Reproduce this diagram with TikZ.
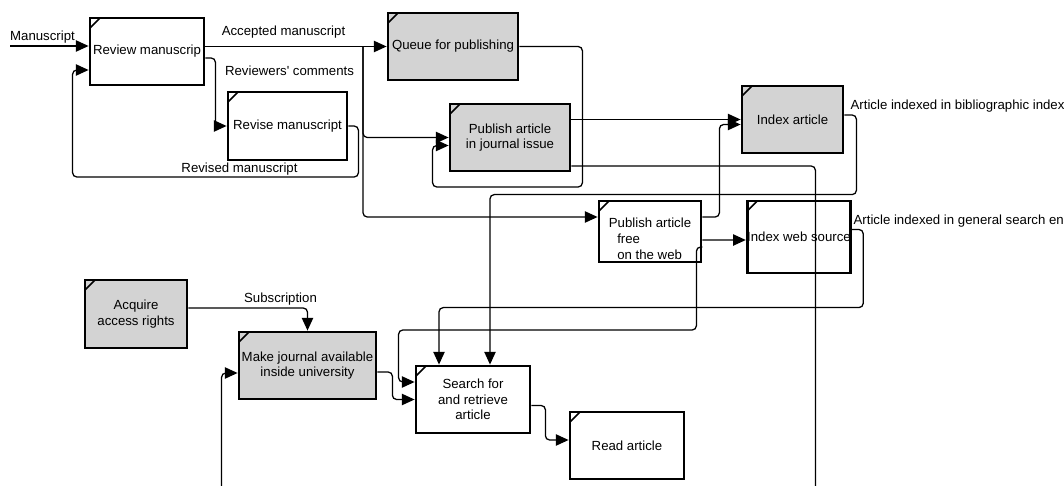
\documentclass[tikz,border=0pt]{standalone}
\usepackage{fontspec}
\setmainfont{Liberation Sans}
\usepackage{tikz}
\usetikzlibrary{arrows.meta, calc}
\definecolor{colorProcess}{HTML}{D3D3D3}
\tikzset{
  proc/.style 2 args={draw, line width=2pt, sharp corners, inner sep=0pt, align=center,
    minimum width=#1*0.025cm, minimum height=#2*0.025cm,
    path picture={\draw[line width=1.2pt] ($(path picture bounding box.north west)+(0,10)$) -- ++(10,-10);}},
  shaded/.style={fill=colorProcess},
  lbl/.style={inner sep=0pt},
}

\begin{document}
\begin{tikzpicture}[>={Triangle[length=9pt,width=8pt]}, x=0.025cm, y=-0.025cm, line width=0.9pt, rounded corners=3pt, every node/.style={font=\fontsize{9.4}{11.2}\selectfont}]
\useasboundingbox (0,0) rectangle (1064,486);
\node[proc={114}{67}] (review) at (147,51.5) {Review manuscrip};
\node[proc={119}{68}] (revise) at (287.5,126) {Revise manuscript};
\node[proc={130}{67}, shaded] (queue) at (453,46.5) {Queue for publishing};
\node[proc={120}{67}, shaded] (pubj) at (510,137.5) {Publish article\\in journal issue};
\node[proc={101}{67}, shaded] (index) at (792.5,119.5) {Index article};
\node[proc={102}{61}, align=left] (pubw) at (650,231.5) {{}\\[6pt]Publish article\\\hspace{6pt}free\\\hspace{6pt}on the web};
\node[proc={102}{72}] (indexw) at (799,237) {Index web source};
\node[proc={102}{68}, shaded] (acquire) at (136,314) {Acquire\\access rights};
\node[proc={137}{67}, shaded] (make) at (307.5,365.5) {Make journal available\\inside university};
\node[proc={114}{67}] (search) at (473,399.5) {Search for\\and retrieve\\article};
\node[proc={114}{67}] (read) at (627,445.5) {Read article};
\coordinate (src) at (10,46);
\coordinate (fork) at (363,46.5);
\node[lbl] (lman) at (42.5,37) {Manuscript};
\node[lbl] (lacc) at (283.5,32) {Accepted manuscript};
\node[lbl] (lcom) at (289.5,70.5) {Reviewers\textquotesingle\ comments};
\node[lbl] (lrev) at (239.5,169) {Revised manuscript};
\node[lbl] (lsub) at (280.5,299) {Subscription};
\node[lbl, anchor=west] (lbib) at (850,106.5) {Article indexed in bibliographic index};
\node[lbl, anchor=west] (lweb) at (853,221.5) {Article indexed in general search en};
\draw [->] (src) -- (review.west |- src);
\draw [->] (review.east |- queue.west) -- (queue.west);
\draw [->] (fork) |- (pubj.west);
\draw [->] (fork) |- ($(pubw.west)+(0,-14.5)$);
\draw [->] ($(review.east)+(0,6.5)$) -- ++(10,0) |- (revise.west);
\draw [->] (revise.east) -- ++(10,0) |- ($(review.west)+(-16,125.5)$) |- ($(review.west)+(0,18.5)$);
\draw [->] (queue.east) -| ++(63,140.5) -| ($(pubj.west)+(-16,8)$) -- ($(pubj.west)+(0,8)$);
\draw [->] (pubj.east |- index.west) -- (index.west);
\draw [->] ($(pubj.east)+(0,28.5)$) -| ++(244,340) -| ($(make.west)+(-16,7.5)$) -- ($(make.west)+(0,7.5)$);
\draw [->] ($(pubw.east)+(0,-14.5)$) -- ++(17,0) |- ($(index.west)+(0,5)$);
\draw [->] ($(pubw.east)+(0,8.5)$) -- ($(indexw.west)+(0,3)$);
\draw [->] ($(pubw.east)+(0,15.5)$) -- ++(-6,0) -- ++(0,83) -| ($(search.west)+(-16,-17.5)$) -- ($(search.west)+(0,-17.5)$);
\draw [->] ($(index.east)+(0,-4.5)$) -- ++(12,0) |- ($(search.north)+(17,-170)$) -- ($(search.north)+(17,0)$);
\draw [->] ($(indexw.east)+(0,-7.5)$) -- ++(11,0) |- ($(search.north)+(-34,-57)$) -- ($(search.north)+(-34,0)$);
\draw [->] ($(acquire.east)+(0,-6)$) -| (make.north);
\draw [->] ($(make.east)+(0,6.5)$) -- ++(15,0) |- (search.west);
\draw [->] ($(search.east)+(0,6)$) -- ++(14,0) |- ($(read.west)+(0,-5.5)$);
\end{tikzpicture}
\end{document}
